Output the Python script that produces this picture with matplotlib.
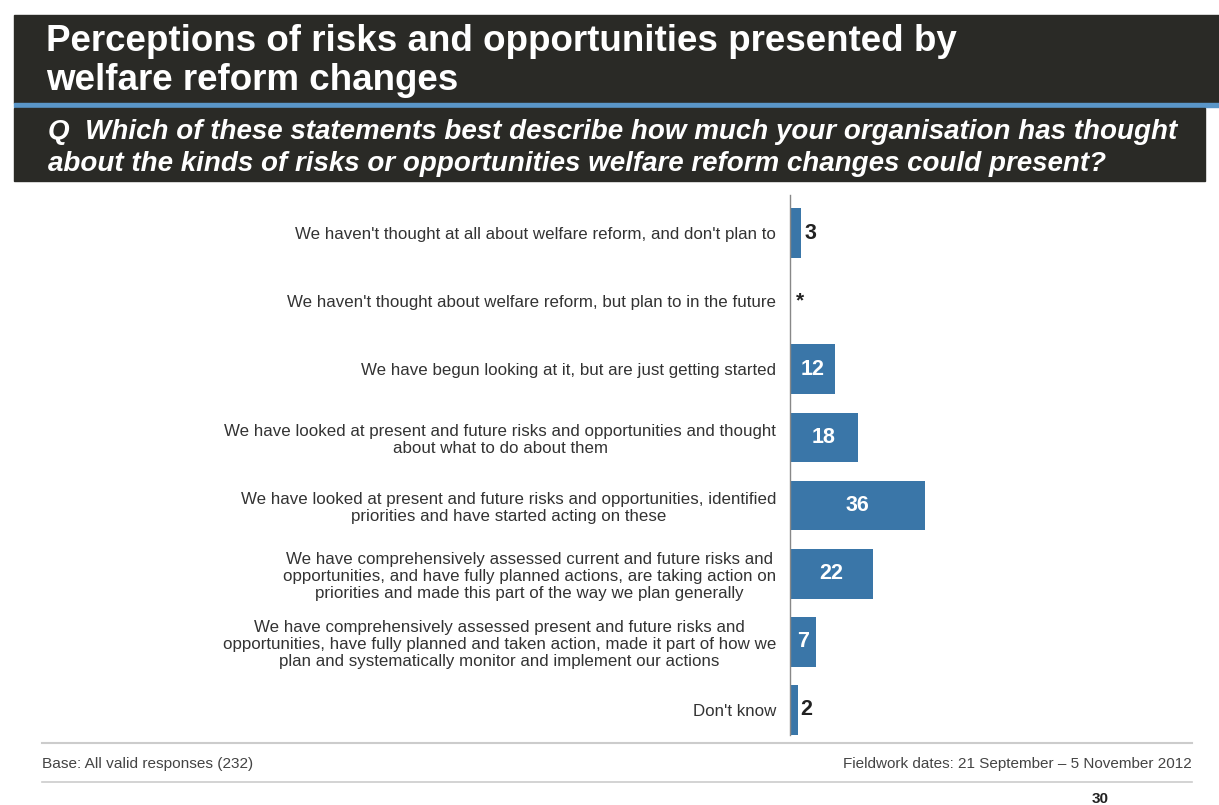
import numpy as np
import matplotlib.pyplot as plt
from matplotlib.patches import Rectangle

plt.rcParams['font.family'] = ['Liberation Sans', 'DejaVu Sans']

# Data
categories = [
    "We haven't thought at all about welfare reform, and don't plan to",
    "We haven't thought about welfare reform, but plan to in the future",
    "We have begun looking at it, but are just getting started",
    "We have looked at present and future risks and opportunities and thought\nabout what to do about them",
    "We have looked at present and future risks and opportunities, identified\npriorities and have started acting on these",
    "We have comprehensively assessed current and future risks and\nopportunities, and have fully planned actions, are taking action on\npriorities and made this part of the way we plan generally",
    "We have comprehensively assessed present and future risks and\nopportunities, have fully planned and taken action, made it part of how we\nplan and systematically monitor and implement our actions",
    "Don't know",
]
values = [3, 0, 12, 18, 36, 22, 7, 2]
value_labels = ['3', '*', '12', '18', '36', '22', '7', '2']

W, H = 1219, 805
fig = plt.figure(figsize=(W / 100, H / 100), dpi=100)

# header boxes
dark = '#2a2a26'
fig.patches.append(Rectangle((14 / W, 1 - 103 / H), (W - 14) / W, 88 / H,
                             transform=fig.transFigure, color=dark, zorder=0))
fig.patches.append(Rectangle((14 / W, 1 - 107 / H), (W - 14) / W, 3.5 / H,
                             transform=fig.transFigure, color='#5a96c8', zorder=0))
fig.patches.append(Rectangle((14 / W, 1 - 181 / H), (1205 - 14) / W, 73 / H,
                             transform=fig.transFigure, color=dark, zorder=0))

fig.text(46 / W, 1 - 61 / H, 'Perceptions of risks and opportunities presented by\nwelfare reform changes',
         color='white', fontsize=26.5, fontweight='bold', va='center', ha='left',
         linespacing=1.12)
fig.text(48 / W, 1 - 148 / H, 'Q  Which of these statements best describe how much your organisation has thought\n'
         'about the kinds of risks or opportunities welfare reform changes could present?',
         color='white', fontsize=20, fontweight='bold', style='italic', va='center', ha='left',
         linespacing=1.28)

# chart axes
ax_left, ax_top, ax_bot = 790, 195, 735
ax = fig.add_axes([ax_left / W, 1 - ax_bot / H, 375 / W, (ax_bot - ax_top) / H])
y = np.arange(len(categories))
bar_color = '#3a76a8'
ax.barh(y, values, height=0.73, color=bar_color)
ax.set_xlim(0, 100)
ax.set_ylim(7.367, -0.558)

for i, (v, lab) in enumerate(zip(values, value_labels)):
    if v >= 7:
        ax.text(v / 2, i, lab, color='white', fontsize=15.5, fontweight='bold',
                ha='center', va='center')
    elif lab == '*':
        ax.text(v + 1.6, i, lab, color='#222222', fontsize=15, fontweight='bold',
                ha='left', va='center')
    else:
        ax.text(v + 0.8, i, lab, color='#222222', fontsize=15.5, fontweight='bold',
                ha='left', va='center')

ax.set_yticks(y)
ax.set_yticklabels(categories, fontsize=12.2, color='#333333', ha='right',
                   multialignment='center')
for t in ax.get_yticklabels():
    t.set_linespacing(1.2)
ax.tick_params(axis='y', length=0, pad=10)
ax.set_xticks([])
for s in ['top', 'right', 'bottom']:
    ax.spines[s].set_visible(False)
ax.spines['left'].set_color('#888888')
ax.spines['left'].set_linewidth(1)

# footer
fig.add_artist(plt.Line2D([42 / W, 1192 / W], [1 - 743 / H, 1 - 743 / H],
                          transform=fig.transFigure, color='#cccccc', lw=1.5))
fig.add_artist(plt.Line2D([42 / W, 1192 / W], [1 - 782 / H, 1 - 782 / H],
                          transform=fig.transFigure, color='#cccccc', lw=1.2))
fig.text(42 / W, 1 - 764 / H, 'Base: All valid responses (232)', fontsize=11.1,
         color='#444444', va='center', ha='left')
fig.text(1192 / W, 1 - 764 / H, 'Fieldwork dates: 21 September \u2013 5 November 2012',
         fontsize=11, color='#444444', va='center', ha='right')
fig.text(1100 / W, 1 - 799 / H, '30', fontsize=11, fontweight='bold', color='#222222',
         va='center', ha='center')

fig.savefig('out.png', dpi=100)
